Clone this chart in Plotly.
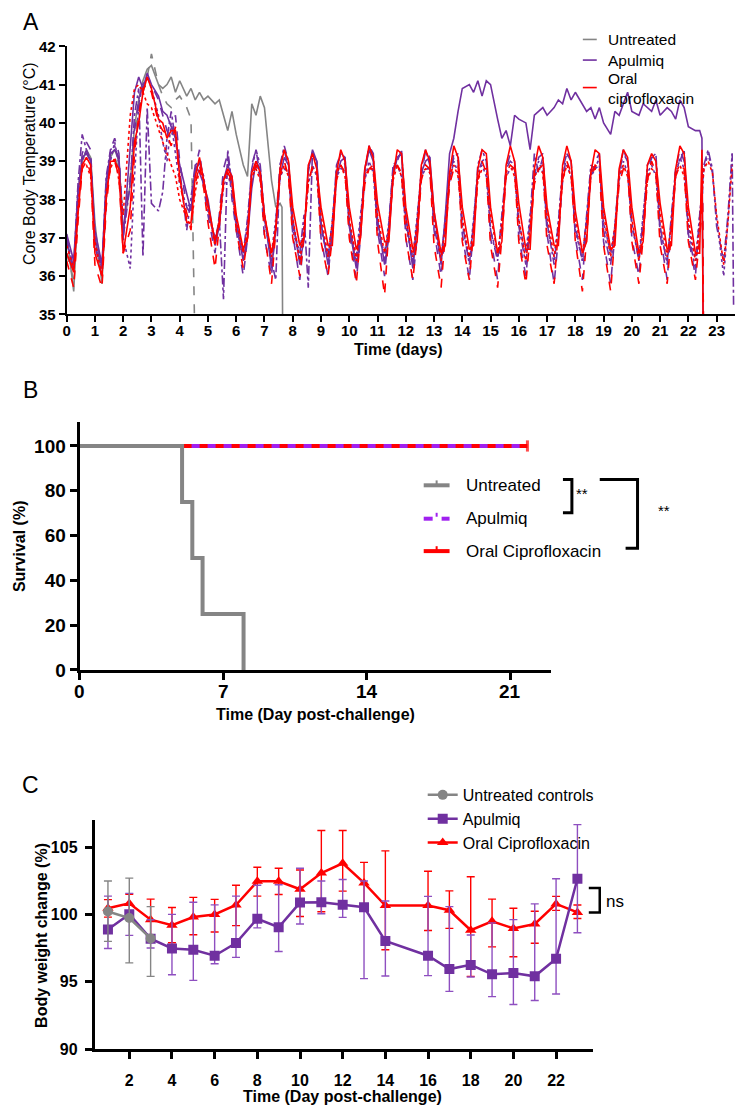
import plotly.graph_objects as go

W, H = 735, 1116
def px(x): return x / W
def py(y): return 1 - y / H

FONT = "Liberation Sans, Arial, sans-serif"
GRAY = "#858585"
PURPLE = "#7030A0"
PURPLE_B = "#A020F0"
RED = "#FF0000"

# ---------------- Panel A: core body temperature (per-day samples) ----------------
A_SAMPLE_OFFSETS = [0.0, 0.25, 0.4, 0.55, 0.7, 0.85]   # time of day of each sample (days)

UNT_SOLID = [
    [37.1, 35.6, 37.9, 39.0, 39.3, 39.1], [37.4, 35.8, 38.2, 39.1, 39.3, 39.0],
    [37.2, 38.4, 39.9, 40.6, 41.1, 41.4], [41.5, 41.0, 40.9, 41.0, 41.2, 40.8],
    [41.1, 40.7, 40.9, 40.6, 40.8, 40.6], [40.7, 40.5, 40.6, 40.2, 39.8, 40.3],
    [39.7, 38.9, 38.6, 40.5, 40.2, 40.7], [40.4, 38.5, 37.8, 37.9]]
UNT_SOLID_TAIL = [(7.62, 37.8), (7.64, 35.0)]

UNT_DASH = [
    [36.6, 35.9, 38.2, 39.1, 39.0, 38.9], [36.9, 36.0, 38.4, 38.9, 39.1, 38.8],
    [37.6, 38.6, 39.6, 40.4, 40.8, 41.2], [41.8, 41.0, 40.7, 40.5, 40.4, 40.6],
    [40.7, 40.4, 40.1]]
UNT_DASH_TAIL = [(4.52, 35.0)]

AP_SOLID = [
    [37.1, 36.4, 38.2, 39.1, 39.2, 39.0], [37.2, 36.3, 38.5, 39.2, 39.3, 39.1],
    [37.0, 39.4, 40.8, 41.2, 40.9, 41.3], [41.0, 40.7, 40.3, 40.2, 39.9, 39.6],
    [38.9, 38.1, 37.7, 38.9, 38.7, 38.4], [38.0, 36.8, 37.3, 38.5, 38.9, 38.6],
    [37.4, 36.4, 37.0, 38.3, 39.0, 38.8], [37.6, 36.2, 37.2, 38.6, 39.1, 38.9],
    [37.5, 36.3, 37.0, 38.8, 39.2, 39.0], [37.4, 36.3, 37.1, 38.6, 39.0, 39.1],
    [37.3, 36.2, 37.2, 38.8, 39.3, 39.0], [37.5, 36.3, 37.0, 38.6, 39.1, 39.2],
    [37.6, 36.2, 37.3, 38.7, 39.0, 39.1], [37.7, 36.3, 37.6, 39.2, 39.6, 40.3],
    [40.9, 41.0, 40.8, 41.1, 40.7, 41.1], [41.0, 40.1, 39.6, 39.8, 39.4, 40.2],
    [40.1, 40.0, 39.3, 40.2, 40.3, 40.4], [40.2, 40.4, 40.6, 40.5, 40.9, 40.6],
    [40.8, 40.5, 40.3, 40.4, 40.1, 40.4], [40.0, 39.7, 40.3, 40.2, 40.5, 40.8],
    [40.3, 40.2, 40.5, 40.4, 40.3, 40.6], [40.2, 40.4, 40.3, 40.1, 40.6, 40.4],
    [39.9, 39.8, 39.8]]
AP_SOLID_TAIL = [(22.48, 39.6), (22.52, 35.0)]

AP_DASH = [
    [36.9, 36.1, 37.8, 39.2, 39.5, 39.3], [36.8, 36.0, 38.0, 39.3, 39.6, 39.2],
    [37.2, 38.5, 39.8, 40.6, 41.0, 41.2], [41.0, 40.6, 40.2, 39.8, 39.6, 40.2],
    [39.0, 37.8, 37.6, 38.8, 39.3, 38.3], [37.6, 36.6, 37.6, 38.8, 39.2, 38.0],
    [37.2, 36.0, 37.0, 38.9, 39.3, 38.6], [37.0, 36.0, 37.4, 38.9, 39.3, 38.8],
    [37.1, 35.9, 37.0, 38.7, 39.3, 39.0], [37.0, 36.0, 37.2, 38.8, 39.2, 38.9],
    [37.2, 35.9, 37.0, 38.6, 39.4, 39.0], [37.2, 36.0, 37.3, 38.8, 39.1, 39.2],
    [37.0, 35.9, 37.0, 38.6, 39.3, 39.1], [37.2, 36.0, 37.2, 38.5, 39.2, 39.0],
    [37.1, 35.9, 37.3, 38.7, 39.0, 39.1], [37.0, 35.9, 37.4, 38.8, 39.2, 39.0],
    [37.0, 36.0, 37.2, 38.6, 39.1, 39.2], [37.1, 35.8, 37.0, 38.5, 39.2, 39.0],
    [37.0, 35.9, 37.4, 38.6, 39.0, 39.2], [36.9, 35.8, 37.1, 38.7, 39.2, 39.0],
    [37.0, 36.0, 37.3, 38.6, 39.1, 39.1], [37.1, 35.9, 37.4, 38.8, 39.3, 39.0],
    [37.0, 36.0, 37.6]]
AP_DASH_TAIL = [(22.5, 38.4), (22.53, 35.0)]

AP_DASHDOT = [
    [37.0, 36.2, 38.4, 39.7, 39.3, 39.0], [37.0, 36.2, 38.6, 39.3, 39.4, 39.0],
    [37.0, 38.4, 40.2, 40.9, 36.5, 40.4], [37.9, 37.7, 38.2, 39.6, 40.3, 39.6],
    [38.8, 37.2, 38.0, 38.9, 39.0, 38.5], [37.8, 36.9, 37.5, 35.4, 39.3, 38.4],
    [37.4, 36.6, 37.5, 38.8, 39.3, 38.9], [37.5, 36.4, 35.9, 38.9, 39.4, 39.0],
    [37.3, 36.6, 37.6, 35.7, 39.3, 39.0], [37.2, 36.5, 37.4, 38.9, 39.2, 39.1],
    [37.4, 36.3, 37.5, 38.7, 39.4, 39.2], [37.3, 36.4, 37.3, 38.9, 39.0, 39.3],
    [37.5, 36.3, 37.4, 38.8, 39.3, 38.9], [37.3, 36.4, 37.5, 38.6, 39.1, 39.2],
    [37.4, 36.3, 37.4, 38.9, 39.3, 39.0], [37.2, 36.4, 37.6, 38.8, 39.0, 38.9],
    [37.3, 36.3, 37.5, 39.2, 38.7, 39.1], [37.4, 36.3, 37.4, 38.8, 39.2, 39.0],
    [37.3, 36.4, 37.6, 38.9, 38.8, 39.1], [37.2, 36.3, 37.3, 38.7, 39.3, 39.0],
    [37.4, 36.4, 37.5, 38.9, 39.1, 39.2], [37.3, 36.3, 37.6, 38.8, 39.0, 39.3],
    [37.1, 36.2, 37.4, 38.9, 39.3, 38.8], [37.3, 36.4, 37.6, 39.2]]
AP_DASHDOT_TAIL = [(23.6, 35.2)]

AP_DOT = [
    [36.8, 36.3, 38.0, 39.0, 39.3, 39.0], [36.9, 36.2, 38.3, 39.0, 39.5, 38.9],
    [37.0, 36.2, 38.6, 40.5, 41.0, 41.2], [40.9, 40.2, 39.5, 39.0, 40.0, 39.2],
    [38.4, 37.8, 37.9, 38.6, 39.0, 38.6], [37.7, 37.0, 37.3, 38.3, 38.7, 38.2],
    [37.3, 36.5, 37.4, 38.5, 38.9, 38.6], [37.4, 36.6, 37.5, 38.6, 38.8, 38.7],
    [37.2, 36.5, 37.3, 38.4, 38.9, 38.6], [37.3, 36.6, 37.4, 38.6, 38.8, 38.8],
    [37.4, 36.5, 37.6, 38.5, 39.0, 38.7], [37.2, 36.6, 37.4, 38.7, 38.9, 38.6],
    [37.3, 36.5, 37.5, 38.6, 38.8, 38.8], [37.4, 36.6, 37.3, 38.5, 39.0, 38.7],
    [37.3, 36.4, 37.5, 38.7, 38.9, 38.6], [37.2, 36.5, 37.4, 38.6, 38.8, 38.8],
    [37.4, 36.6, 37.6, 38.5, 39.0, 38.7], [37.3, 36.5, 37.4, 38.7, 38.9, 38.6],
    [37.2, 36.4, 37.5, 38.6, 38.8, 38.9], [37.4, 36.6, 37.3, 38.5, 39.0, 38.7],
    [37.3, 36.5, 37.6, 38.7, 38.9, 38.6], [37.2, 36.4, 37.4, 38.6, 39.1, 38.8],
    [37.3, 36.4, 37.6, 38.8, 39.2, 38.7], [37.5, 36.0, 37.4, 39.2]]
AP_DOT_TAIL = []

RED_SOLID = [
    [36.6, 36.1, 37.6, 38.9, 39.1, 38.9], [36.6, 36.0, 38.0, 39.0, 39.0, 38.8],
    [36.6, 37.8, 39.5, 40.0, 40.8, 41.2], [40.9, 40.1, 40.0, 39.6, 39.8, 39.8],
    [38.6, 37.4, 37.4, 38.6, 39.1, 38.5], [37.8, 36.9, 37.4, 38.5, 38.8, 38.6],
    [37.6, 36.7, 37.0, 38.7, 39.0, 38.7], [37.6, 36.6, 37.2, 38.8, 39.3, 39.0],
    [37.8, 36.8, 37.0, 38.9, 39.2, 38.8], [37.8, 36.8, 36.8, 38.7, 39.3, 39.0],
    [37.8, 36.7, 37.0, 38.8, 39.4, 39.1], [37.9, 36.9, 36.9, 38.6, 39.3, 39.2],
    [37.8, 36.7, 36.9, 38.9, 39.3, 39.0], [37.7, 36.6, 36.8, 38.7, 39.4, 39.1],
    [37.8, 36.7, 36.8, 38.8, 39.3, 39.2], [37.8, 36.6, 36.9, 38.9, 39.4, 39.0],
    [37.9, 36.7, 36.7, 38.8, 39.4, 39.1], [37.8, 36.8, 36.8, 38.9, 39.4, 39.0],
    [37.7, 36.6, 36.9, 38.7, 39.3, 39.2], [37.8, 36.7, 36.8, 38.8, 39.3, 39.1],
    [37.8, 36.6, 36.9, 38.9, 39.2, 39.0], [37.9, 36.7, 36.8, 38.8, 39.4, 39.2],
    [37.8, 36.6, 36.6]]
RED_SOLID_TAIL = [(22.48, 39.3), (22.52, 35.0)]

RED_DASH = [
    [36.4, 35.7, 37.4, 38.8, 39.0, 38.7], [36.3, 35.7, 37.8, 38.9, 39.0, 38.6],
    [36.6, 37.2, 39.2, 40.2, 40.9, 41.0], [40.8, 40.0, 39.8, 39.7, 39.4, 39.9],
    [38.4, 37.6, 37.2, 38.4, 38.9, 38.3], [37.4, 36.2, 37.3, 38.4, 38.7, 38.5],
    [37.2, 36.2, 37.0, 38.6, 38.9, 38.6], [37.1, 35.8, 37.2, 38.7, 39.0, 38.6],
    [37.0, 36.0, 37.1, 38.4, 38.9, 38.8], [36.9, 36.0, 37.0, 38.5, 38.9, 38.7],
    [37.0, 35.8, 37.1, 38.4, 38.8, 38.9], [36.9, 35.5, 37.2, 38.6, 38.9, 38.7],
    [37.0, 35.9, 37.0, 38.5, 38.9, 38.8], [36.8, 35.7, 37.1, 38.4, 38.8, 38.9],
    [36.9, 35.9, 37.2, 38.5, 39.0, 38.7], [36.8, 35.7, 37.0, 38.6, 38.9, 38.8],
    [36.9, 35.8, 37.1, 38.4, 38.8, 38.9], [36.8, 35.8, 37.2, 38.5, 39.0, 38.7],
    [36.9, 35.6, 37.0, 38.6, 38.9, 38.8], [36.8, 35.6, 37.1, 38.4, 38.8, 38.9],
    [36.9, 35.8, 37.0, 38.5, 39.0, 38.7], [36.8, 35.8, 37.2, 38.6, 38.9, 38.8],
    [36.9, 35.9, 37.0]]
RED_DASH_TAIL = [(22.5, 38.0), (22.53, 35.0)]

RED_DOT = [
    [36.8, 36.2, 37.8, 38.9, 38.9, 38.6], [36.9, 36.0, 38.2, 38.8, 39.1, 38.5],
    [37.6, 40.2, 40.9, 41.0, 40.8, 40.5], [40.4, 39.8, 39.5, 39.2, 38.9, 38.6],
    [38.0, 37.5, 37.3, 38.2, 38.8, 38.5], [37.8, 36.8, 37.5, 38.5, 38.7, 38.4],
    [37.5, 36.6, 37.2, 38.6, 38.8, 38.5], [37.6, 36.5, 37.3, 38.6, 38.9, 38.6],
    [37.5, 36.4, 37.2, 38.5, 38.8, 38.7], [37.6, 36.5, 37.4, 38.7, 38.9, 38.6],
    [37.5, 36.4, 37.3, 38.6, 38.8, 38.8], [37.6, 36.6, 37.2, 38.5, 38.9, 38.6],
    [37.5, 36.5, 37.4, 38.7, 38.8, 38.7], [37.6, 36.4, 37.3, 38.6, 38.9, 38.6],
    [37.5, 36.5, 37.2, 38.5, 38.8, 38.8], [37.6, 36.6, 37.4, 38.7, 38.9, 38.6],
    [37.5, 36.4, 37.3, 38.6, 38.8, 38.7], [37.6, 36.5, 37.2, 38.5, 38.9, 38.6],
    [37.5, 36.6, 37.4, 38.7, 38.8, 38.8], [37.6, 36.5, 37.3, 38.6, 38.9, 38.6],
    [37.5, 36.4, 37.2, 38.5, 38.8, 38.7], [37.6, 36.5, 37.4, 38.7, 38.9, 38.6],
    [37.5, 36.4, 37.3, 38.8, 39.0, 38.7], [37.6, 36.3, 37.4, 38.9]]
RED_DOT_TAIL = []

A_X_TICKS = list(range(0, 24))
A_Y_TICKS = [35, 36, 37, 38, 39, 40, 41, 42]
A_LEGEND = ["Untreated", "Apulmiq", "Oral<br>ciprofloxacin"]

# ---------------- Panel B: survival ----------------
B_UNT_DAY = [0, 5, 5.5, 6, 8]
B_UNT_SURV = [100, 75, 50, 25, 0]
B_TRT_DAY = [0, 21.85]
B_TRT_SURV = [100, 100]
B_X_TICKS = [0, 7, 14, 21]
B_Y_TICKS = [0, 20, 40, 60, 80, 100]
B_LEGEND = ["Untreated", "Apulmiq", "Oral Ciprofloxacin"]

# ---------------- Panel C: body weight ----------------
C_UNT_DAY = [1, 2, 3]
C_UNT_MEAN = [100.22, 99.73, 98.22]
C_UNT_HI = [102.48, 102.7, 100.58]
C_UNT_LO = [98.0, 96.4, 95.4]

C_DAY = [1, 2, 3, 4, 5, 6, 7, 8, 9, 10, 11, 12, 13, 14, 16, 17, 18, 19, 20, 21, 22, 23]
C_API_MEAN = [98.88, 100.02, 98.2, 97.47, 97.37, 96.93, 97.88, 99.68, 99.05, 100.88, 100.9,
              100.71, 100.53, 98.03, 96.93, 95.94, 96.25, 95.55, 95.64, 95.4, 96.7, 102.65]
C_API_HI = [101.36, 101.56, 99.6, 100.0, 100.9, 100.71, 101.36, 102.17, 102.2, 103.43, 102.48,
            102.6, 102.48, 101.0, 101.34, 100.58, 98.47, 99.37, 99.61, 100.78, 102.65, 106.67]
C_API_LO = [97.47, 98.44, 97.5, 95.52, 95.1, 96.33, 96.81, 99.0, 97.25, 99.29, 100.05,
            99.78, 95.23, 95.43, 95.45, 94.28, 95.35, 93.89, 93.31, 93.6, 94.09, 98.64]
C_CIP_MEAN = [100.46, 100.82, 99.61, 99.2, 99.81, 100.0, 100.7, 102.46, 102.46, 101.87, 103.07,
              103.8, 102.34, 100.66, 100.66, 100.31, 98.83, 99.49, 98.96, 99.29, 100.78, 100.15]
C_CIP_HI = [101.1, 101.5, 101.14, 100.51, 101.27, 101.12, 102.17, 103.5, 103.43, 103.3, 106.23,
            106.23, 103.87, 104.72, 103.21, 101.75, 102.8, 101.14, 100.46, 100.24, 101.34, 100.7]
C_CIP_LO = [99.8, 100.1, 98.1, 97.9, 98.49, 98.69, 99.17, 101.36, 101.48, 99.85, 100.2,
            101.73, 100.8, 97.37, 98.81, 98.96, 95.4, 97.59, 96.86, 97.86, 100.3, 99.7]
C_X_TICKS = [2, 4, 6, 8, 10, 12, 14, 16, 18, 20, 22]
C_Y_TICKS = [90, 95, 100, 105]


def flatten(days, tail):
    t, v = [], []
    for d, vals in enumerate(days):
        for off, val in zip(A_SAMPLE_OFFSETS, vals):
            t.append(d + off)
            v.append(val)
    for tt, vv in tail:
        t.append(tt)
        v.append(vv)
    return t, v


fig = go.Figure()

a_series = [
    (UNT_SOLID, UNT_SOLID_TAIL, GRAY, "solid"),
    (UNT_DASH, UNT_DASH_TAIL, GRAY, "dash"),
    (AP_SOLID, AP_SOLID_TAIL, PURPLE, "solid"),
    (AP_DASH, AP_DASH_TAIL, PURPLE, "dash"),
    (AP_DASHDOT, AP_DASHDOT_TAIL, PURPLE, "dashdot"),
    (AP_DOT, AP_DOT_TAIL, PURPLE, "dot"),
    (RED_DASH, RED_DASH_TAIL, RED, "dash"),
    (RED_DOT, RED_DOT_TAIL, RED, "dot"),
    (RED_SOLID, RED_SOLID_TAIL, RED, "solid"),
]
for days, tail, color, dash in a_series:
    t, v = flatten(days, tail)
    fig.add_trace(go.Scatter(
        x=t, y=v, mode="lines", showlegend=False,
        line=dict(color=color, width=1.6, dash=dash),
        xaxis="x", yaxis="y"))

# Panel B
fig.add_trace(go.Scatter(x=B_TRT_DAY, y=B_TRT_SURV, mode="lines+markers", line_shape="hv",
                         line=dict(color=RED, width=4),
                         marker=dict(symbol=["line-ns", "line-ns"], size=[0, 8],
                                     line=dict(color=RED, width=3)),
                         showlegend=False, xaxis="x2", yaxis="y2"))
fig.add_trace(go.Scatter(x=B_TRT_DAY, y=B_TRT_SURV, mode="lines", line_shape="hv",
                         line=dict(color=PURPLE_B, width=4, dash="8px,8px"),
                         showlegend=False, xaxis="x2", yaxis="y2"))
fig.add_trace(go.Scatter(x=B_UNT_DAY, y=B_UNT_SURV, mode="lines", line_shape="hv",
                         line=dict(color=GRAY, width=4),
                         showlegend=False, xaxis="x2", yaxis="y2"))

# Panel C
def errs(mean, hi, lo):
    return [h - m for h, m in zip(hi, mean)], [m - l for m, l in zip(mean, lo)]

up, dn = errs(C_CIP_MEAN, C_CIP_HI, C_CIP_LO)
fig.add_trace(go.Scatter(x=C_DAY, y=C_CIP_MEAN, mode="lines+markers", name="Oral Ciprofloxacin",
                         legendrank=3,
                         line=dict(color=RED, width=2.5),
                         marker=dict(symbol="triangle-up", size=10, color=RED),
                         error_y=dict(type="data", symmetric=False, array=up, arrayminus=dn,
                                      color=RED, thickness=1.4, width=4),
                         xaxis="x3", yaxis="y3"))
up, dn = errs(C_API_MEAN, C_API_HI, C_API_LO)
fig.add_trace(go.Scatter(x=C_DAY, y=C_API_MEAN, mode="lines+markers", name="Apulmiq",
                         legendrank=2,
                         line=dict(color=PURPLE, width=2.5),
                         marker=dict(symbol="square", size=10, color=PURPLE),
                         error_y=dict(type="data", symmetric=False, array=up, arrayminus=dn,
                                      color="#8E4FC0", thickness=1.4, width=4),
                         xaxis="x3", yaxis="y3"))
up, dn = errs(C_UNT_MEAN, C_UNT_HI, C_UNT_LO)
fig.add_trace(go.Scatter(x=C_UNT_DAY, y=C_UNT_MEAN, mode="lines+markers", name="Untreated controls",
                         legendrank=1,
                         line=dict(color=GRAY, width=2.5),
                         marker=dict(symbol="circle", size=10, color=GRAY),
                         error_y=dict(type="data", symmetric=False, array=up, arrayminus=dn,
                                      color=GRAY, thickness=1.4, width=4),
                         xaxis="x3", yaxis="y3"))


def axis(domain, rng, ticks, anchor, lw, fs, tlen=6, standoff=0, labels=True):
    return dict(domain=domain, range=rng, tickmode="array", tickvals=ticks,
                showline=True, linecolor="black", linewidth=lw, ticks="outside",
                ticklen=tlen, tickwidth=lw, tickcolor="black", showgrid=False,
                zeroline=False, anchor=anchor, ticklabelstandoff=standoff,
                showticklabels=labels,
                tickfont=dict(family=FONT, size=fs, color="black", weight="bold"))


layout = dict(
    width=W, height=H, margin=dict(l=0, r=0, t=0, b=0),
    paper_bgcolor="white", plot_bgcolor="white",
    font=dict(family=FONT, color="black"),
    xaxis=axis([px(63), 1.0], [0, 23.65], A_X_TICKS, "y", 2, 15, standoff=-4),
    yaxis=axis([py(311), py(38)], [35, 42], A_Y_TICKS, "x", 2, 15),
    xaxis2=axis([px(76), px(550)], [0, 23], B_X_TICKS, "y2", 3, 19, 7, labels=False),
    yaxis2=axis([py(673), py(421)], [0, 110.5], B_Y_TICKS, "x2", 3, 19, 7),
    xaxis3=axis([px(91), px(592)], [0.37, 23.72], C_X_TICKS, "y3", 2.5, 16, 7, standoff=8),
    yaxis3=axis([py(1059), py(826)], [90, 107], C_Y_TICKS, "x3", 2.5, 16, 7, standoff=4),
    showlegend=True,
    legend=dict(x=px(421), y=py(783), xanchor="left", yanchor="top",
                font=dict(family=FONT, size=16, color="black"),
                bgcolor="rgba(0,0,0,0)", itemwidth=30, tracegroupgap=0),
)
fig.update_layout(**layout)

ann = []
def text(x, y, s, size, bold=False, angle=0, xanchor="center"):
    ann.append(dict(x=px(x), y=py(y), xref="paper", yref="paper", text=s, showarrow=False,
                    textangle=angle, xanchor=xanchor, yanchor="middle", align="left",
                    font=dict(family=FONT, size=size, color="black",
                              weight="bold" if bold else "normal")))

# Panel B x tick labels, placed on the B time axis
for tv in B_X_TICKS:
    ann.append(dict(x=tv, y=py(695), xref="x2", yref="paper", text=str(tv), showarrow=False,
                    xanchor="center", yanchor="middle",
                    font=dict(family=FONT, size=19, color="black", weight="bold")))

text(27, 13, "A", 23)
text(27, 388, "B", 23)
text(27, 790, "C", 23)
text(25, 157, "Core Body Temperature (°C)", 16, angle=-90)
text(397, 347, "Time (days)", 16, bold=True)
text(15, 547, "Survival (%)", 16, bold=True, angle=-90)
text(313, 718, "Time (Day post-challenge)", 16, bold=True)
text(37, 943, "Body weight change (%)", 16, bold=True, angle=-90)
text(340, 1107, "Time (Day post-challenge)", 16, bold=True)
# Panel A legend text
text(605, 31, A_LEGEND[0], 15.5, xanchor="left")
text(605, 52, A_LEGEND[1], 15.5, xanchor="left")
text(605, 81, A_LEGEND[2], 15.5, xanchor="left")
# Panel B legend text and significance labels
text(463, 485, B_LEGEND[0], 17, xanchor="left")
text(463, 519, B_LEGEND[1], 17, xanchor="left")
text(463, 552, B_LEGEND[2], 17, xanchor="left")
text(581, 493, "**", 15)
text(664, 511, "**", 15)
text(603, 909, "ns", 17, xanchor="left")

shapes = []
def seg(x0, y0, x1, y1, color, width, dash="solid"):
    shapes.append(dict(type="line", xref="paper", yref="paper", x0=px(x0), y0=py(y0),
                       x1=px(x1), y1=py(y1), line=dict(color=color, width=width, dash=dash)))

def bracket(points, width):
    path = "M " + " L ".join(f"{px(a):.5f},{py(b):.5f}" for a, b in points)
    shapes.append(dict(type="path", xref="paper", yref="paper", path=path,
                       line=dict(color="black", width=width)))

# A legend glyphs
seg(582, 31, 596, 31, GRAY, 1.6)
seg(582, 52, 596, 52, PURPLE, 1.6)
seg(582, 80, 596, 80, RED, 1.6)
# B legend glyphs
seg(422, 485, 448, 485, GRAY, 4)
seg(435, 480, 435, 485, GRAY, 2)
seg(422, 519, 431, 519, PURPLE_B, 4)
seg(440, 519, 448, 519, PURPLE_B, 4)
seg(435, 513, 435, 517, PURPLE_B, 2)
seg(422, 552, 448, 552, RED, 4)
seg(435, 547, 435, 552, RED, 2)
# significance brackets
bracket([(562, 479), (571, 479), (571, 513), (562, 513)], 3)
bracket([(599, 479), (637, 479), (637, 549), (625, 549)], 3)
bracket([(588, 895), (599, 895), (599, 920), (588, 920)], 2.5)

fig.update_layout(annotations=ann, shapes=shapes)
fig.write_html("out.html")
